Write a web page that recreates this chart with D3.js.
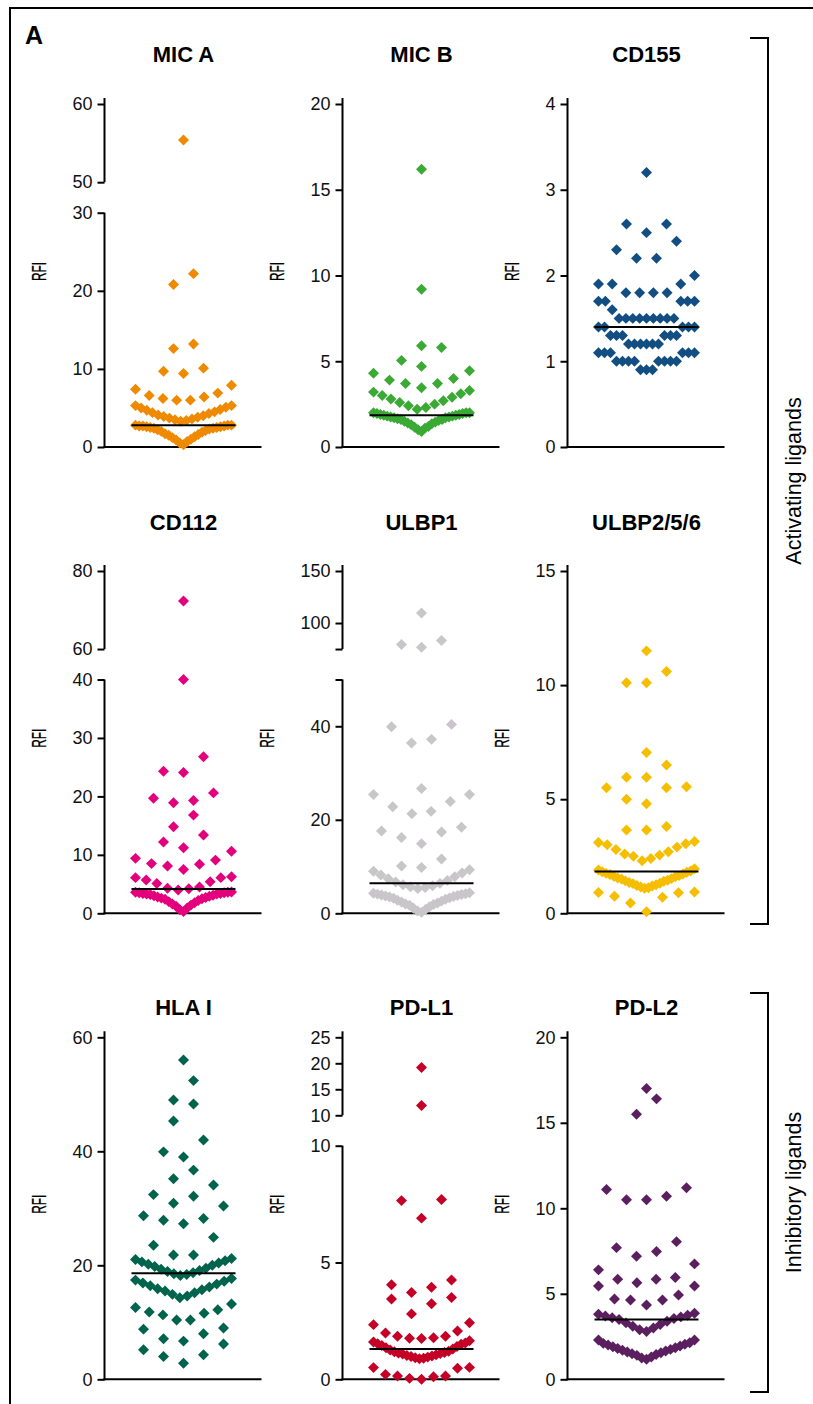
<!DOCTYPE html>
<html>
<head>
<meta charset="utf-8">
<script src="https://cdn.jsdelivr.net/npm/d3@7"></script>
<style>
  body { margin: 0; background: #fff; }
  svg text { font-family: "Liberation Sans", Arial, Helvetica, sans-serif; }
</style>
</head>
<body>
<div id="chart"></div>
<script>
// ---- data ----
const ligands = ["MIC A", "MIC B", "CD155", "CD112", "ULBP1", "ULBP2/5/6", "HLA I", "PD-L1", "PD-L2"];
const ligandColors = ["#ef8a00", "#3aaa35", "#124e82", "#e4007d", "#c8c6c8", "#f6be00", "#00634c", "#c40026", "#5b1f5f"];
const medianRFI = [2.8, 1.85, 1.4, 4.15, 6.4, 1.83, 18.6, 1.3, 3.5];
const groupLabels = ["Activating ligands", "Inhibitory ligands"];

// y axis: lower segment, and upper segment where the axis is broken
const lowerDomains = [[0, 30], [0, 20], [0, 4], [0, 40], [0, 50], [0, 15], [0, 60], [0, 10], [0, 20]];
const upperDomains = [[50, 60], null, null, [60, 80], [75, 150], null, null, [10, 25], null];
const lowerTicks = [[0, 10, 20, 30], [0, 5, 10, 15, 20], [0, 1, 2, 3, 4], [0, 10, 20, 30, 40], [0, 20, 40, 50], [0, 5, 10, 15], [0, 20, 40, 60], [0, 5, 10], [0, 5, 10, 15, 20]];
const upperTicks = [[50, 60], null, null, [60, 80], [75, 100, 150], null, null, [10, 15, 20, 25], null];
const unlabeledTicks = [[], [], [], [], [50, 75], [], [], [], []];

const rfiMicA = [55.4, 22.2, 20.8, 13.2, 12.6, 10.1, 9.7, 9.4, 7.9, 7.4, 6.9, 6.6, 6.4, 6.2, 6.0, 6.0,
  5.3, 5.3, 5.1, 5.0, 4.8, 4.7, 4.5, 4.4, 4.3, 4.1, 4.0, 3.9, 3.8, 3.7, 3.6, 3.5, 3.4, 3.3,
  2.8, 2.8, 2.8, 2.7, 2.7, 2.7, 2.6, 2.6, 2.5, 2.5, 2.4, 2.4, 2.3, 2.2, 2.1, 2.0, 1.9, 1.7, 1.6, 1.5, 1.3, 1.2, 1.0, 0.9, 0.7, 0.5, 0.3];
const rfiMicB = [16.2, 9.2, 5.9, 5.8, 5.05, 4.7, 4.45, 4.3, 4.0, 3.9, 3.7, 3.7, 3.45,
  3.3, 3.2, 3.1, 3.0, 2.9, 2.8, 2.7, 2.6, 2.5, 2.4, 2.3, 2.2,
  2.0, 2.0, 2.0, 1.95, 1.95, 1.9, 1.9, 1.85, 1.85, 1.8, 1.8, 1.75, 1.75, 1.7, 1.7, 1.65, 1.6, 1.6, 1.55, 1.5, 1.45, 1.4, 1.35, 1.3, 1.2, 1.15, 1.1, 1.0, 0.9];
const rfiCd155 = [3.2, 2.6, 2.6, 2.5, 2.4, 2.3, 2.2, 2.2, 2.0, 1.9, 1.9, 1.9, 1.8, 1.8, 1.8, 1.8,
  1.7, 1.7, 1.7, 1.7, 1.7, 1.6, 1.5, 1.5, 1.5, 1.5, 1.5, 1.5, 1.5, 1.5, 1.5,
  1.4, 1.4, 1.4, 1.4, 1.4, 1.3, 1.3, 1.3, 1.3, 1.3, 1.3, 1.2, 1.2, 1.2, 1.2, 1.2, 1.2,
  1.1, 1.1, 1.1, 1.1, 1.1, 1.1, 1.0, 1.0, 1.0, 1.0, 1.0, 1.0, 1.0, 1.0, 0.9, 0.9, 0.9];
const rfiCd112 = [72.3, 40.0, 26.8, 24.3, 24.1, 20.6, 19.7, 19.3, 18.9, 16.8, 14.8, 13.4, 12.2, 11.2, 10.6,
  9.4, 9.1, 8.5, 8.4, 8.1, 7.5, 6.25, 6.1, 6.1, 5.7, 5.4, 5.1, 4.5, 4.3, 4.2, 4.0,
  3.65, 3.6, 3.6, 3.5, 3.5, 3.4, 3.4, 3.3, 3.3, 3.2, 3.1, 3.0, 2.9, 2.8, 2.7, 2.6, 2.5, 2.4, 2.2, 2.0, 1.8, 1.6, 1.4, 1.2, 0.9, 0.6, 0.3];
const rfiUlbp1 = [109.7, 83.2, 79.4, 76.8, 40.4, 39.9, 37.2, 36.4, 26.7, 25.4, 25.4, 23.9, 22.8, 21.8, 21.3,
  18.4, 17.6, 17.4, 16.2, 14.9, 11.6, 10.1, 9.8,
  9.3, 9.0, 8.6, 8.2, 7.8, 7.4, 7.0, 6.7, 6.4, 6.1, 5.9, 5.7, 5.5, 5.3,
  4.4, 4.3, 4.2, 4.1, 4.0, 3.9, 3.8, 3.7, 3.6, 3.5, 3.3, 3.2, 3.0, 2.8, 2.6, 2.4, 2.2, 2.0, 1.9, 1.7, 1.4, 1.1, 0.8, 0.5, 0.2];
const rfiUlbp2 = [11.5, 10.6, 10.1, 10.1, 7.05, 6.5, 5.96, 5.96, 5.55, 5.5, 5.5, 5.0, 4.8, 3.8, 3.65, 3.65,
  3.15, 3.1, 3.05, 3.0, 2.9, 2.8, 2.7, 2.6, 2.55, 2.5, 2.4, 2.3,
  1.95, 1.9, 1.85, 1.82, 1.8, 1.75, 1.72, 1.7, 1.65, 1.62, 1.6, 1.55, 1.52, 1.5, 1.45, 1.42, 1.4, 1.35, 1.32, 1.3, 1.25, 1.22, 1.2, 1.15, 1.12, 1.1,
  0.93, 0.91, 0.9, 0.75, 0.7, 0.45, 0.07];
const rfiHla = [56.0, 52.4, 49.0, 48.3, 45.3, 42.0, 39.9, 39.0, 36.7, 35.2, 34.1, 32.4, 32.1, 30.9, 30.4, 28.7, 28.2, 27.9, 27.3, 24.9, 23.5, 21.8, 21.8,
  21.2, 21.0, 20.8, 20.6, 20.4, 20.2, 20.0, 19.8, 19.5, 19.3, 19.1, 18.9, 18.7, 18.5, 18.4, 18.2,
  17.7, 17.4, 17.2, 16.9, 16.7, 16.4, 16.2, 15.9, 15.7, 15.5, 15.2, 14.9, 14.6, 14.3,
  13.2, 12.6, 12.2, 11.8, 11.6, 11.3, 10.4, 10.4, 9.0, 8.8, 8.0, 7.1, 6.7, 6.2, 5.2, 4.3, 4.0, 2.8];
const rfiPdl1 = [19.2, 11.9, 7.7, 7.65, 6.9, 4.25, 4.05, 3.94, 3.72, 3.5, 3.44, 3.23, 2.8,
  2.42, 2.34, 2.07, 1.98, 1.84, 1.84, 1.78, 1.76, 1.75,
  1.65, 1.6, 1.55, 1.52, 1.5, 1.45, 1.4, 1.35, 1.3, 1.25, 1.2, 1.18, 1.15, 1.12, 1.1, 1.08, 1.05, 1.02, 1.0, 0.98, 0.95, 0.92, 0.9, 0.88,
  0.51, 0.5, 0.47, 0.21, 0.14, 0.14, 0.11, 0.04, 0];
const rfiPdl2 = [17.0, 16.4, 15.5, 11.2, 11.1, 10.7, 10.5, 10.5, 8.05, 7.7, 7.47, 7.2, 6.75, 6.4, 5.95, 5.85, 5.85, 5.65, 5.46, 5.46, 4.93, 4.7, 4.64, 4.64, 4.35,
  3.86, 3.8, 3.75, 3.7, 3.65, 3.6, 3.55, 3.5, 3.4, 3.3, 3.2, 3.1, 3.0, 2.9, 2.8,
  2.3, 2.3, 2.14, 2.1, 2.05, 2.0, 1.95, 1.9, 1.85, 1.8, 1.75, 1.7, 1.65, 1.6, 1.55, 1.5, 1.45, 1.4, 1.3, 1.25, 1.17];

const panelValues = [rfiMicA, rfiMicB, rfiCd155, rfiCd112, rfiUlbp1, rfiUlbp2, rfiHla, rfiPdl1, rfiPdl2];

// ---- layout ----
const width = 813, height = 1404;
const colAxisX = [104.5, 342.5, 567.5];
const rowBase = [447, 913.3, 1379.3];
const rowHeight = [343, 342.3, 342];
const titleY = [61.5, 530, 1015];
const lowFrac = 0.683, upFrac = 0.772;   // where the broken axes end / restart
const centerOffset = 79, xAxisLength = 157, medianHalf = 52;

// Prism-like scatter: group points into rows of binPx height, spread each row
// sideways with the smallest value in the middle
function swarm(values, yOf, binPx, step, halfMax) {
    const pts = values.map(function(v) { return {v: v, y: yOf(v)}; })
        .sort(function(a, b) { return a.v - b.v; });
    const bins = [];
    let cur = null;
    pts.forEach(function(p) {
        if (!cur || cur.top - p.y >= binPx) {
            cur = {top: p.y, items: []};
            bins.push(cur);
        }
        cur.items.push(p);
    });
    bins.forEach(function(b) {
        const n = b.items.length;
        const s = n > 1 ? Math.min(step, 2 * halfMax / (n - 1)) : 0;
        b.items.forEach(function(p, i) {
            if (n % 2) p.dx = i === 0 ? 0 : (i % 2 ? -1 : 1) * Math.ceil(i / 2) * s;
            else p.dx = (i % 2 ? 1 : -1) * (Math.floor(i / 2) + 0.5) * s;
        });
    });
    return pts;
}

const svg = d3.select("#chart")
    .append("svg")
    .attr("width", width)
    .attr("height", height);

// frame + panel letter
svg.append("path")
    .attr("d", "M10,1404 V8 H813")
    .attr("fill", "none")
    .attr("stroke", "#000")
    .attr("stroke-width", 2);
svg.append("text")
    .attr("x", 25)
    .attr("y", 44)
    .attr("font-size", 25)
    .attr("font-weight", "bold")
    .text("A");

ligands.forEach(function(name, i) {
    const col = i % 3, row = Math.floor(i / 3);
    const ax = colAxisX[col];
    const cx = ax + centerOffset;
    const y0 = rowBase[row], h = rowHeight[row];
    const broken = upperDomains[i] !== null;

    const yLow = d3.scaleLinear()
        .domain(lowerDomains[i])
        .range([y0, broken ? y0 - lowFrac * h : y0 - h]);
    const yUp = broken ? d3.scaleLinear()
        .domain(upperDomains[i])
        .range([y0 - upFrac * h, y0 - h]) : null;
    const yOf = function(v) { return (broken && v > lowerDomains[i][1]) ? yUp(v) : yLow(v); };

    const g = svg.append("g");
    const fmt = function(d) { return unlabeledTicks[i].indexOf(d) >= 0 ? "" : d; };

    const axes = g.append("g");
    const segments = [[yLow, lowerTicks[i]]];
    if (broken) segments.push([yUp, upperTicks[i]]);
    segments.forEach(function(seg) {
        const a = axes.append("g")
            .attr("transform", `translate(${ax},0)`)
            .call(d3.axisLeft(seg[0]).tickValues(seg[1]).tickSize(7).tickPadding(5).tickFormat(fmt));
        a.select(".domain").remove();
        a.selectAll("line").attr("stroke-width", 2);
        a.selectAll("text")
            .attr("font-size", 18)
            .attr("font-family", "'Liberation Sans', Arial, sans-serif")
            .attr("fill", "#111");
    });

    // axis lines
    const yTopLow = broken ? yLow(lowerDomains[i][1]) : yLow(lowerDomains[i][1]) - 6;
    g.append("line")
        .attr("x1", ax).attr("x2", ax)
        .attr("y1", y0 + 1).attr("y2", yTopLow)
        .attr("stroke", "#000").attr("stroke-width", 2);
    if (broken) {
        g.append("line")
            .attr("x1", ax).attr("x2", ax)
            .attr("y1", yUp(upperDomains[i][0])).attr("y2", yUp(upperDomains[i][1]) - 6)
            .attr("stroke", "#000").attr("stroke-width", 2);
    }
    g.append("line")
        .attr("x1", ax - 1).attr("x2", ax + xAxisLength)
        .attr("y1", y0).attr("y2", y0)
        .attr("stroke", "#000").attr("stroke-width", 2);

    // RFI label (narrow type) left of the tick labels
    const labelLeft = axes.node().getBBox().x;
    g.append("text")
        .attr("x", 0)
        .attr("y", 0)
        .attr("transform", `translate(${labelLeft - 34},${y0 - h / 2 - 4}) rotate(-90)`)
        .attr("text-anchor", "middle")
        .attr("dy", "0.36em")
        .attr("font-size", 20)
        .attr("textLength", 19)
        .attr("lengthAdjust", "spacingAndGlyphs")
        .attr("stroke", "#000")
        .attr("stroke-width", 0.3)
        .text("RFI");

    // title
    g.append("text")
        .attr("x", cx)
        .attr("y", titleY[row])
        .attr("text-anchor", "middle")
        .attr("font-size", 22)
        .attr("font-weight", "bold")
        .text(name);

    // points
    const pts = swarm(panelValues[i], yOf, 20, 20, 48);
    g.selectAll("path.pt")
        .data(pts)
        .enter()
        .append("path")
        .attr("class", "pt")
        .attr("d", d3.symbol(d3.symbolSquare, 60))
        .attr("transform", function(d) { return `translate(${cx + d.dx},${d.y}) rotate(45)`; })
        .attr("fill", ligandColors[i]);

    // median
    g.append("line")
        .attr("x1", cx - medianHalf).attr("x2", cx + medianHalf)
        .attr("y1", yOf(medianRFI[i])).attr("y2", yOf(medianRFI[i]))
        .attr("stroke", "#000").attr("stroke-width", 2);
});

// group brackets on the right
const bracketSpans = [[38, 924], [993, 1392]];
bracketSpans.forEach(function(span, k) {
    svg.append("path")
        .attr("d", `M750,${span[0]} H768 V${span[1]} H750`)
        .attr("fill", "none")
        .attr("stroke", "#000")
        .attr("stroke-width", 2);
    svg.append("text")
        .attr("transform", `translate(794,${(span[0] + span[1]) / 2}) rotate(-90)`)
        .attr("text-anchor", "middle")
        .attr("dominant-baseline", "central")
        .attr("font-size", 21.5)
        .text(groupLabels[k]);
});
</script>
</body>
</html>
